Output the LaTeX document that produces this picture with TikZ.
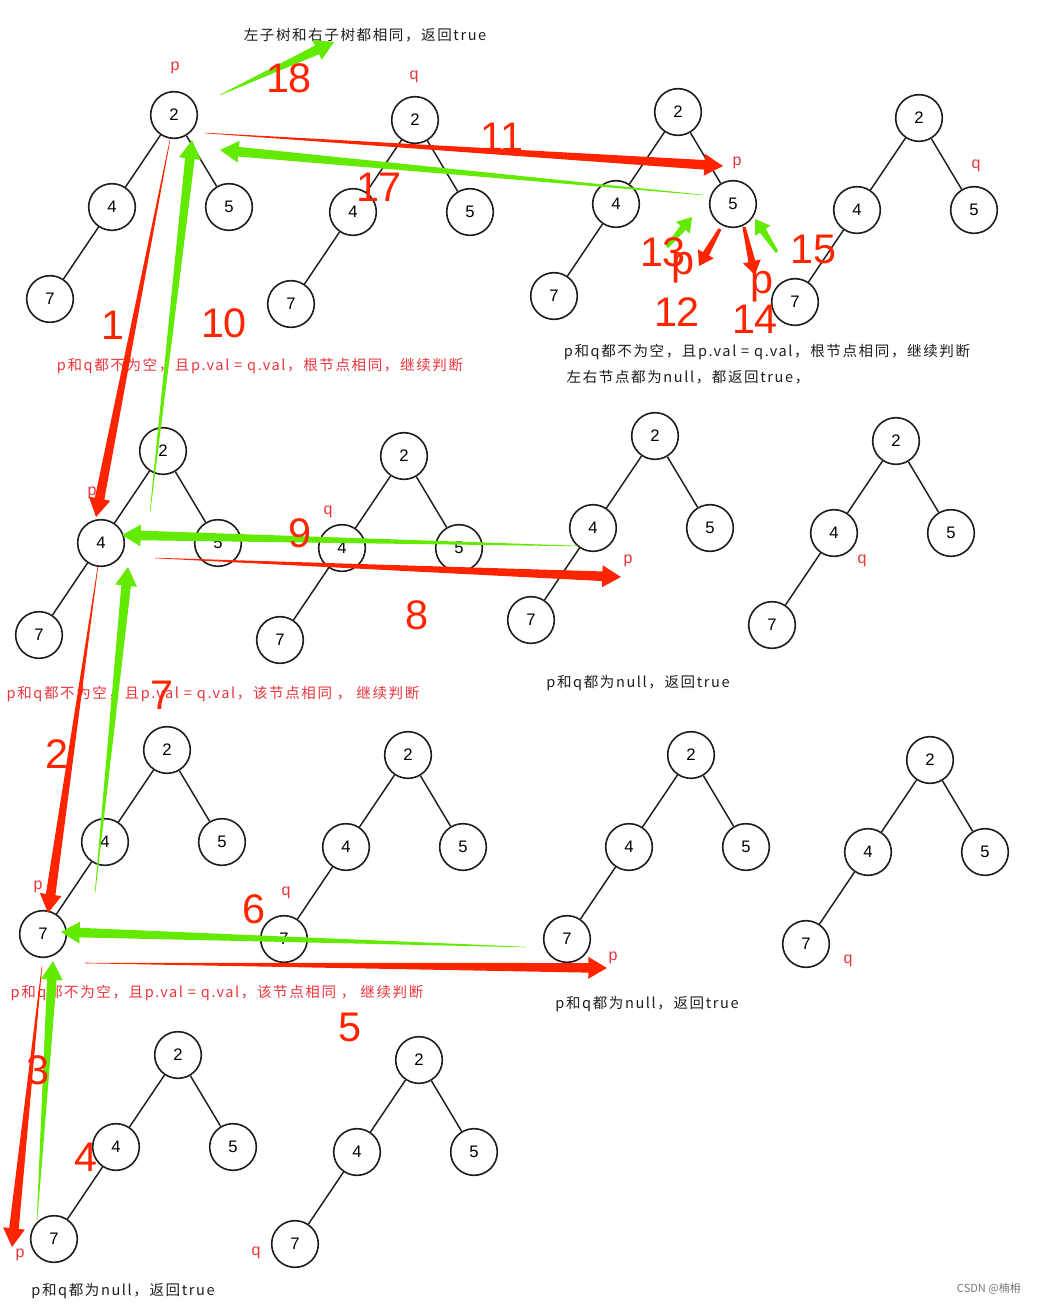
\documentclass[tikz,border=0pt]{standalone}
\usepackage{fontspec}
\setmainfont{Liberation Sans}
\newfontfamily\cjk{Noto Sans CJK SC}[LetterSpace=11]
\newfontfamily\cjkplain{Noto Sans CJK SC}
\usetikzlibrary{calc}
\definecolor{ared}{RGB}{255,36,0}
\definecolor{agreen}{RGB}{98,234,0}
\definecolor{tred}{RGB}{236,52,60}
\definecolor{wmgray}{RGB}{120,120,120}
\definecolor{ink}{RGB}{30,30,30}
% tapered arrow: #1 colour, #2 tail, #3 tip, #4 tail half width, #5 shaft half width, #6 head length, #7 head half width
\newcommand\tarrow[7]{%
  \path ($(#3)!#6!(#2)$) coordinate (tabase);
  \fill[#1] ($(#2)!#4!90:(#3)$) -- ($(tabase)!#5!90:(#3)$) -- ($(tabase)!#7!90:(#3)$) -- (#3)
    -- ($(tabase)!#7!-90:(#3)$) -- ($(tabase)!#5!-90:(#3)$) -- ($(#2)!#4!-90:(#3)$) -- cycle;}
\newcommand\bigarrow[3]{\tarrow{#1}{#2}{#3}{0.2pt}{3.6pt}{14pt}{8.2pt}}
\newcommand\smallarrow[3]{\tarrow{#1}{#2}{#3}{1.2pt}{2.6pt}{10.5pt}{6.8pt}}
\tikzset{
  nd/.style={circle, draw=ink, line width=1.2pt, minimum size=35pt, inner sep=0pt,
             font=\fontsize{12.5}{14}\selectfont},
  edge/.style={draw=ink, line width=1.1pt},
  lab/.style={text=tred, font=\fontsize{12}{13}\selectfont, inner sep=0pt},
  bignum/.style={text=ared, font=\fontsize{31}{32}\selectfont, inner sep=0pt},
  blk/.style={text=ink, font=\cjk\fontsize{10.9}{12}\selectfont, inner sep=0pt},
  rtx/.style={text=tred, font=\cjk\fontsize{10.9}{12}\selectfont, inner sep=0pt},
  tree/.pic={
    \node[nd] (-r) at (0,0) {2};
    \node[nd] (-a) at (-62,92) {4};
    \node[nd] (-b) at (55,92) {5};
    \node[nd] (-c) at (-124,184) {7};
    \draw[edge] (-r) -- (-a) (-r) -- (-b) (-a) -- (-c);
  }
}
\begin{document}
\begin{tikzpicture}[x=0.75pt,y=-0.75pt]
\useasboundingbox (0,0) rectangle (1038,1304);
% trees
\pic (A) at (174,115) {tree};
\pic (B) at (415,120) {tree};
\pic (C) at (678,112) {tree};
\pic (D) at (919,118) {tree};
\pic (E) at (163,451) {tree};
\pic (F) at (404,456) {tree};
\pic (G) at (655,436) {tree};
\pic (H) at (896,441) {tree};
\pic (I) at (167,750) {tree};
\pic (J) at (408,755) {tree};
\pic (K) at (691,755) {tree};
\pic (L) at (930,760) {tree};
\pic (M) at (178,1055) {tree};
\pic (N) at (419,1060) {tree};
% p / q labels
\node[lab] (lA) at (175,68) {p};
\node[lab] (lB) at (414,77) {q};
\node[lab] (lC) at (737,163) {p};
\node[lab] (lD) at (976,166) {q};
\node[lab] (lE) at (92,493) {p};
\node[lab] (lF) at (328,512) {q};
\node[lab] (lG) at (628,561) {p};
\node[lab] (lH) at (862,561) {q};
\node[lab] (lI) at (38,887) {p};
\node[lab] (lJ) at (286,893) {q};
\node[lab] (lK) at (613,958) {p};
\node[lab] (lL) at (848,961) {q};
\node[lab] (lM) at (20,1255) {p};
\node[lab] (lN) at (256,1253) {q};
% texts
\node[blk] (t1) at (365,35) {左子树和右子树都相同，返回true};
\node[rtx] (t2) at (260,366) {p和q都不为空，且p.val = q.val，根节点相同，继续判断};
\node[blk] (t3) at (767,352) {p和q都不为空，且p.val = q.val，根节点相同，继续判断};
\node[blk] (t4) at (688,377) {左右节点都为null，都返回true，};
\node[rtx] (t5) at (213,694) {p和q都不为空，且p.val = q.val，该节点相同 ， 继续判断};
\node[blk] (t6) at (638,683) {p和q都为null，返回true};
\node[rtx] (t7) at (217,993) {p和q都不为空，且p.val = q.val，该节点相同 ， 继续判断};
\node[blk] (t8) at (647,1004) {p和q都为null，返回true};
\node[blk] (t9) at (123,1291) {p和q都为null，返回true};
\node[text=wmgray, font=\cjkplain\fontsize{8.3}{9}\selectfont, inner sep=0pt] (wm) at (989,1289) {CSDN @楠枏};
% arrow end points
\coordinate (r11s) at (205,133); \coordinate (r11e) at (723,166);
\coordinate (r1s) at (170,140);  \coordinate (r1e) at (96,517);
\coordinate (r8s) at (155,558);  \coordinate (r8e) at (621,577);
\coordinate (r2s) at (98,566);   \coordinate (r2e) at (48,913);
\coordinate (r5s) at (85,963);   \coordinate (r5e) at (607,968);
\coordinate (r3s) at (42,966);   \coordinate (r3e) at (12,1247);
\coordinate (r12s) at (720,229); \coordinate (r12e) at (699,266);
\coordinate (r14s) at (744,227); \coordinate (r14e) at (755,275);
\coordinate (g18s) at (220,95);  \coordinate (g18e) at (334,42);
\coordinate (g17s) at (703,195); \coordinate (g17e) at (220,150);
\coordinate (g10s) at (150,512); \coordinate (g10e) at (192,140);
\coordinate (g9s) at (578,546);  \coordinate (g9e) at (122,535);
\coordinate (g7s) at (95,893);   \coordinate (g7e) at (128,567);
\coordinate (g6s) at (525,947);  \coordinate (g6e) at (61,932);
\coordinate (g3s) at (37,1220);  \coordinate (g3e) at (53,961);
\coordinate (g13s) at (667,247); \coordinate (g13e) at (692,217);
\coordinate (g15s) at (777,252); \coordinate (g15e) at (755,219);
% arrows
\bigarrow{ared}{r11s}{r11e}
\bigarrow{ared}{r1s}{r1e}
\bigarrow{ared}{r8s}{r8e}
\bigarrow{ared}{r2s}{r2e}
\bigarrow{ared}{r5s}{r5e}
\bigarrow{ared}{r3s}{r3e}
\smallarrow{ared}{r12s}{r12e}
\smallarrow{ared}{r14s}{r14e}
\bigarrow{agreen}{g18s}{g18e}
\bigarrow{agreen}{g17s}{g17e}
\bigarrow{agreen}{g10s}{g10e}
\bigarrow{agreen}{g9s}{g9e}
\bigarrow{agreen}{g7s}{g7e}
\bigarrow{agreen}{g6s}{g6e}
\bigarrow{agreen}{g3s}{g3e}
\smallarrow{agreen}{g13s}{g13e}
\smallarrow{agreen}{g15s}{g15e}
% step numbers
\node[bignum] (n18) at (289,78) {18};
\node[bignum] (n11) at (502,137) {11};
\node[bignum] (n17) at (379,187) {17};
\node[bignum] (n1) at (113,325) {1};
\node[bignum] (n10) at (224,323) {10};
\node[bignum] (n13) at (663,252) {13};
\node[bignum] (bp1) at (683,268) {p};
\node[bignum] (n12) at (677,312) {12};
\node[bignum] (bp2) at (762,287) {p};
\node[bignum] (n14) at (755,319) {14};
\node[bignum] (n15) at (813,249) {15};
\node[bignum] (n9) at (300,533) {9};
\node[bignum] (n8) at (417,615) {8};
\node[bignum] (n7) at (162,695) {7};
\node[bignum] (n2) at (57,754) {2};
\node[bignum] (n6) at (254,909) {6};
\node[bignum] (n5) at (350,1027) {5};
\node[bignum] (n3) at (38,1070) {3};
\node[bignum] (n4) at (86,1157) {4};
\end{tikzpicture}
\end{document}
